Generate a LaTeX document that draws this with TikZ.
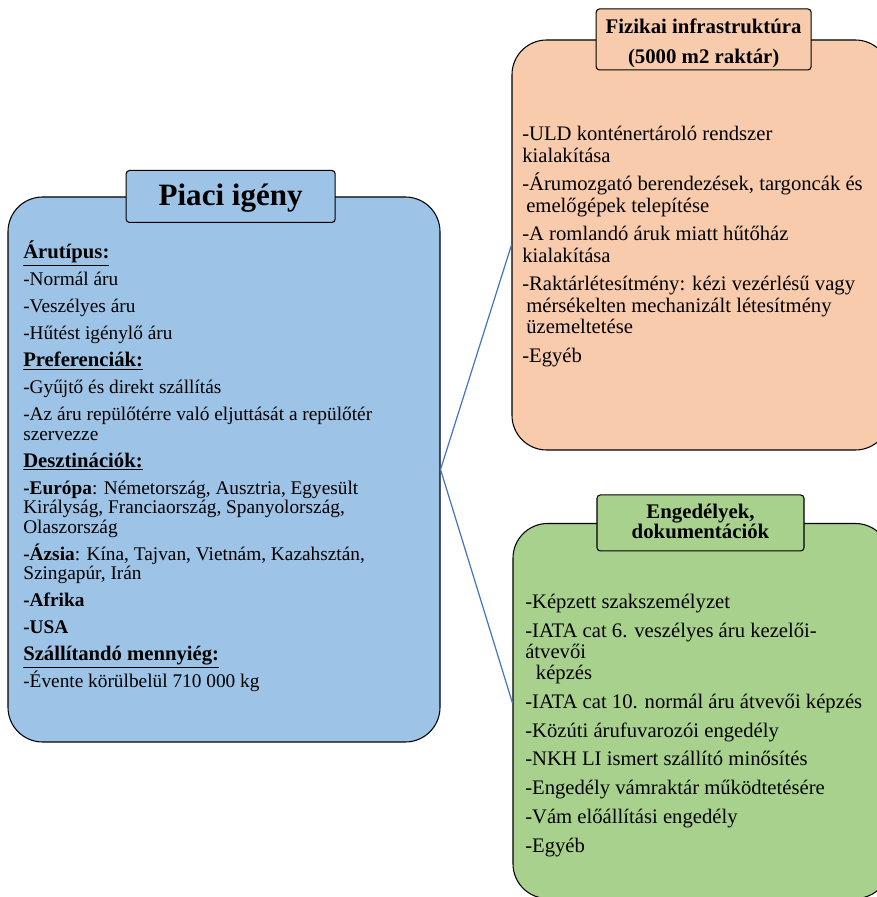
\documentclass[tikz,border=0pt]{standalone}
\usepackage{fontspec}
\setmainfont{Liberation Serif}
\usetikzlibrary{positioning}
\definecolor{piacikek}{RGB}{157,195,230}
\definecolor{fizikaisz}{RGB}{248,203,173}
\definecolor{engedzold}{RGB}{169,209,142}
\definecolor{vonalkek}{RGB}{68,114,196}
\newcommand{\fejlec}[1]{{\fontsize{15.5}{14.6}\selectfont\underline{\textbf{#1}}}}
\lineskiplimit=-100pt

\begin{document}
\begin{tikzpicture}[x=0.75pt,y=0.75pt,
		doboz/.style={draw,rounded corners=26pt,line width=0.8pt,inner sep=0pt},
		cim/.style={draw,rounded corners=2.5pt,line width=0.8pt,inner sep=0pt},
		cimszoveg/.style={font=\bfseries\fontsize{15.6}{#1}\selectfont,align=center,inner sep=0pt},
		szoveg/.style={align=left,inner sep=0pt,anchor=north west},
		vonal/.style={draw=vonalkek,line width=0.9pt}]
	\useasboundingbox (0,0) rectangle (877,897);
	\clip (0,0) rectangle (877,897);
	% the three boxes
	\node[doboz,fill=piacikek,minimum width=324pt,minimum height=408.75pt] (piaci) at (224,427.5) {};
	\node[doboz,fill=fizikaisz,minimum width=283.5pt,minimum height=307.5pt] (fizikai) at (701,652) {};
	\node[doboz,fill=engedzold,minimum width=282.75pt,minimum height=281.25pt] (engedely) at (701.5,186) {};
	\draw[vonal] (piaci.east) -- (fizikai.west);
	\draw[vonal] (piaci.east) -- ([yshift=6pt]engedely.west);
	% titles
	\node[cim,fill=piacikek,minimum width=156.75pt,minimum height=39pt] (piacicim) at ([xshift=5pt]piaci.north) {};
	\node[inner sep=0pt,font=\bfseries\fontsize{23.3}{24}\selectfont] (piacicimszoveg) at ([yshift=-1.5pt]piacicim) {Piaci igény};
	\node[cim,fill=fizikaisz,minimum width=161.25pt,minimum height=45.75pt] (fizikaicim) at ([xshift=2pt]fizikai.north) {};
	\node[cimszoveg=22.5] (fizikaicimszoveg) at ([yshift=-3pt]fizikaicim) {Fizikai infrastruktúra\\(5000 m2 raktár)};
	\node[cim,fill=engedzold,minimum width=155.25pt,minimum height=42pt] (engedelycim) at ([xshift=-0.75pt]engedely.north) {};
	\node[cimszoveg=15] (engedelycimszoveg) at ([yshift=1pt]engedelycim) {Engedélyek,\\dokumentációk};
	% texts
	\node[szoveg,font=\fontsize{14.5}{14.6}\selectfont] (piacitxt) at (23,656) {
		\fejlec{Árutípus:}\\[5.65pt]
		-Normál áru\\[5.65pt]
		-Veszélyes áru\\[5.65pt]
		-Hűtést igénylő áru\\[5.65pt]
		\fejlec{Preferenciák:}\\[5.65pt]
		-Gyűjtő és direkt szállítás\\[5.65pt]
		-Az áru repülőtérre való eljuttását a repülőtér\\
		szervezze\\[5.65pt]
		\fejlec{Desztinációk:}\\[5.65pt]
		\textbf{-Európa}: Németország, Ausztria, Egyesült\\
		Királyság, Franciaország, Spanyolország,\\
		Olaszország\\[5.65pt]
		\textbf{-Ázsia}: Kína, Tajvan, Vietnám, Kazahsztán,\\
		Szingapúr, Irán\\[5.65pt]
		\textbf{-Afrika}\\[5.65pt]
		\textbf{-USA}\\[5.65pt]
		\fejlec{Szállítandó mennyiég:}\\[5.65pt]
		-Évente körülbelül 710 000 kg};
	\node[szoveg,font=\fontsize{15.5}{16.1}\selectfont] (fizikaitxt) at (522,771) {
		-ULD konténertároló rendszer\\
		kialakítása\\[5.3pt]
		-Árumozgató berendezések, targoncák és\\
		\hspace{3pt}emelőgépek telepítése\\[5.3pt]
		-A romlandó áruk miatt hűtőház\\
		kialakítása\\[5.3pt]
		-Raktárlétesítmény: kézi vezérlésű vagy\\
		\hspace{3pt}mérsékelten mechanizált létesítmény\\
		\hspace{3pt}üzemeltetése\\[5.3pt]
		-Egyéb};
	\node[szoveg,font=\fontsize{15.5}{15.75}\selectfont] (engedelytxt) at (525,303) {
		-Képzett szakszemélyzet\\[5.85pt]
		-IATA cat 6. veszélyes áru kezelői-\\
		átvevői\\
		\hspace{8pt}képzés\\[5.85pt]
		-IATA cat 10. normál áru átvevői képzés\\[5.85pt]
		-Közúti árufuvarozói engedély\\[5.85pt]
		-NKH LI ismert szállító minősítés\\[5.85pt]
		-Engedély vámraktár működtetésére\\[5.85pt]
		-Vám előállítási engedély\\[5.85pt]
		-Egyéb};
\end{tikzpicture}
\end{document}
